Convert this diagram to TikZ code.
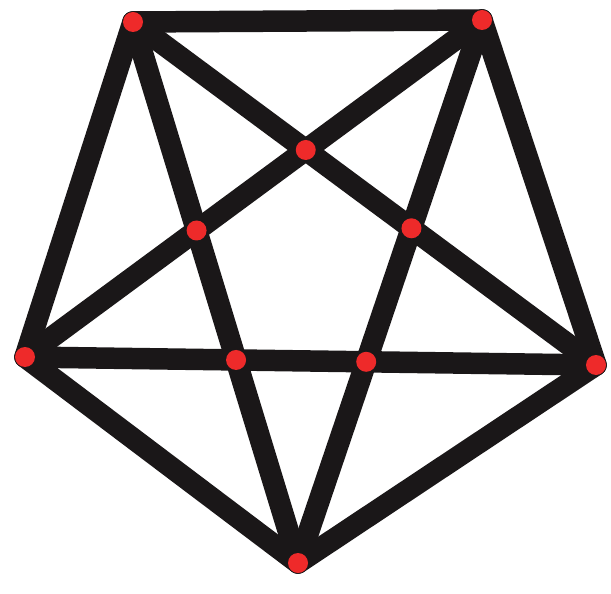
\documentclass[tikz,border=0pt]{standalone}
\usetikzlibrary{positioning}
\definecolor{dotred}{HTML}{EE2A2A}
\definecolor{ink}{HTML}{1A1718}
\tikzset{
  edge/.style={line width=21.5*0.02cm,ink,line cap=round,line join=round},
  vtx/.style={circle,fill=dotred,inner sep=0pt,minimum size=20*0.02cm}
}
\begin{document}
\begin{tikzpicture}[x=0.02cm,y=-0.02cm]
    \useasboundingbox (0,0) rectangle (611,594);
    % outer pentagon corners
    \coordinate (A) at (133,22);
    \coordinate (B) at (482,20);
    \coordinate (C) at (596,365);
    \coordinate (D) at (298,563);
    \coordinate (E) at (25,357);
    % star crossings
    \coordinate (P) at (intersection of A--C and B--E);
    \coordinate (Q) at (intersection of A--D and B--E);
    \coordinate (R) at (intersection of A--C and B--D);
    \coordinate (S) at (intersection of A--D and E--C);
    \coordinate (T) at (intersection of B--D and E--C);
    \draw[edge] (A) -- (B) -- (C) -- (D) -- (E) -- cycle;
    \foreach \u/\v in {A/C, A/D, B/E, B/D, E/C}
      \draw[edge] (\u) -- (\v);
    \foreach \p in {A,B,C,D,E,P,Q,R,S,T}
      \node[vtx] (dot\p) at (\p) {};
  \end{tikzpicture}
\end{document}
